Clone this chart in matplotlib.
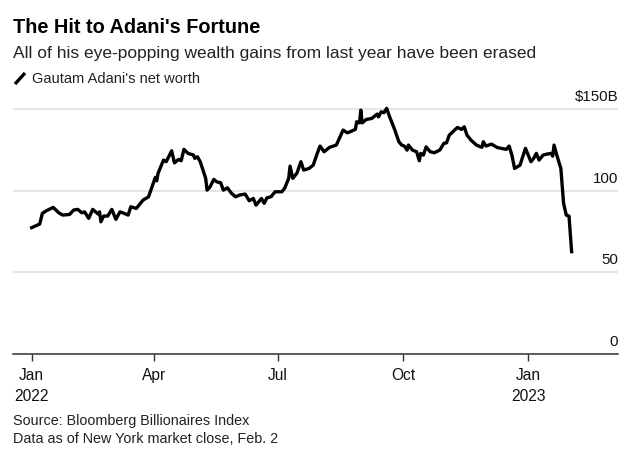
import matplotlib
matplotlib.use("Agg")
import matplotlib.pyplot as plt
import matplotlib.dates as mdates
from matplotlib.lines import Line2D
from matplotlib.transforms import ScaledTranslation
import pandas as pd

# Gautam Adani's net worth, $B
dates = [
    "2021-12-31", "2022-01-07", "2022-01-09", "2022-01-12", "2022-01-17", "2022-01-21", "2022-01-24", "2022-01-29",
    "2022-02-01", "2022-02-04", "2022-02-07", "2022-02-09", "2022-02-12", "2022-02-15", "2022-02-19", "2022-02-20",
    "2022-02-21", "2022-02-23", "2022-02-26",
    "2022-03-01", "2022-03-04", "2022-03-07", "2022-03-10", "2022-03-13", "2022-03-15", "2022-03-19", "2022-03-24",
    "2022-03-28", "2022-03-31",
    "2022-04-02", "2022-04-03", "2022-04-04", "2022-04-08", "2022-04-10", "2022-04-14", "2022-04-16", "2022-04-19",
    "2022-04-21", "2022-04-23", "2022-04-26", "2022-04-30",
    "2022-05-01", "2022-05-03", "2022-05-05", "2022-05-07", "2022-05-09", "2022-05-10", "2022-05-12", "2022-05-15",
    "2022-05-17", "2022-05-20", "2022-05-22", "2022-05-25", "2022-05-28", "2022-05-31",
    "2022-06-03", "2022-06-07", "2022-06-10", "2022-06-13", "2022-06-15", "2022-06-19", "2022-06-21", "2022-06-23",
    "2022-06-26", "2022-06-29",
    "2022-07-04", "2022-07-06", "2022-07-09", "2022-07-10", "2022-07-12", "2022-07-15", "2022-07-18", "2022-07-20",
    "2022-07-24", "2022-07-27", "2022-07-30",
    "2022-08-01", "2022-08-04", "2022-08-08", "2022-08-13", "2022-08-18", "2022-08-21", "2022-08-23", "2022-08-27",
    "2022-08-28", "2022-08-30", "2022-08-31",
    "2022-09-01", "2022-09-04", "2022-09-08", "2022-09-12", "2022-09-13", "2022-09-15", "2022-09-17", "2022-09-19",
    "2022-09-21", "2022-09-25", "2022-09-28", "2022-09-30",
    "2022-10-02", "2022-10-04", "2022-10-05", "2022-10-08", "2022-10-11", "2022-10-13", "2022-10-14", "2022-10-16",
    "2022-10-18", "2022-10-21", "2022-10-24", "2022-10-28", "2022-10-31",
    "2022-11-02", "2022-11-04", "2022-11-08", "2022-11-10", "2022-11-13", "2022-11-15", "2022-11-17", "2022-11-20",
    "2022-11-24", "2022-11-28", "2022-11-29",
    "2022-12-01", "2022-12-05", "2022-12-09", "2022-12-12", "2022-12-16", "2022-12-18", "2022-12-20", "2022-12-22",
    "2022-12-26", "2022-12-30",
    "2023-01-01", "2023-01-03", "2023-01-05", "2023-01-07", "2023-01-09", "2023-01-12", "2023-01-15", "2023-01-18",
    "2023-01-19", "2023-01-20", "2023-01-22", "2023-01-25", "2023-01-27", "2023-01-29", "2023-01-31", "2023-02-02",
]
net_worth = [
    77.0, 79.6, 86.2, 87.8, 89.8, 86.5, 85.1, 85.5,
    88.2, 88.6, 86.5, 87.1, 83.1, 88.6, 85.7, 87.1, 81.0, 84.5, 84.5,
    88.6, 82.5, 87.1, 86.2, 85.1, 90.2, 89.2, 94.3, 96.3, 103.5,
    108.2, 106.1, 110.7, 118.8, 117.8, 124.5, 117.1, 119.2, 118.4, 125.4, 122.9, 121.9,
    119.9, 120.8, 117.8, 112.7, 107.6, 100.4, 102.1, 107.0, 105.5, 104.9, 100.4, 101.8, 98.4, 96.3,
    97.4, 98.0, 93.9, 95.3, 91.2, 95.3, 92.3, 95.7, 96.3, 99.4,
    99.4, 101.5, 107.6, 115.1, 107.6, 110.7, 117.8, 112.7, 113.7, 115.7, 122.9,
    127.4, 123.9, 126.6, 128.0, 137.2, 135.5, 136.1, 137.6, 142.3, 141.6, 149.4,
    141.6, 143.7, 144.3, 147.0, 145.3, 148.4, 147.8, 150.5, 145.7, 137.2, 130.0, 128.0,
    127.4, 124.9, 128.0, 124.9, 123.9, 118.4, 122.9, 121.9, 126.9, 123.9, 123.3, 124.9, 129.0,
    129.4, 134.1, 137.2, 138.8, 137.6, 139.2, 134.1, 131.0, 128.0, 126.6, 130.0,
    127.4, 128.6, 126.6, 126.0, 125.4, 127.4, 121.9, 113.7, 115.7, 126.0,
    121.9, 117.8, 119.8, 122.9, 118.8, 121.9, 122.5, 122.9, 121.2, 128.0, 121.9, 113.7, 92.3, 85.1, 84.5, 61.7,
]

y_ticks = [0, 50, 100, 150]
y_tick_labels = ["0", "50", "100", "$150B"]
x_ticks = ["2022-01-01", "2022-04-01", "2022-07-01", "2022-10-01", "2023-01-01"]
x_tick_labels = ["Jan\n2022", "Apr", "Jul", "Oct", "Jan\n2023"]

plt.rcParams["font.family"] = ["Liberation Sans", "DejaVu Sans"]

W, H = 643, 454
fig = plt.figure(figsize=(W / 100, H / 100), dpi=100)
fig.patch.set_facecolor("white")

# axes box in pixels: left 13, right 618, bottom 354, top at y=155 -> 101
ax = fig.add_axes([13 / W, 1 - 354 / H, (618 - 13) / W, (354 - 101) / H])
x = pd.to_datetime(dates)
ax.plot(x, net_worth, color="black", lw=2.4, solid_joinstyle="round", solid_capstyle="butt", zorder=3)

ax.set_ylim(0, 155)
start = mdates.date2num(pd.Timestamp("2022-01-01"))
ax.set_xlim(start - 13.6, start + 431)

for s in ["top", "right", "left"]:
    ax.spines[s].set_visible(False)
ax.spines["bottom"].set_color("#333333")
ax.spines["bottom"].set_linewidth(1.1)

ax.set_yticks(y_ticks)
ax.set_yticklabels(y_tick_labels)
ax.yaxis.tick_right()
ax.tick_params(axis="y", length=0, pad=0, labelsize=10.8, labelcolor="#111111")
for lab in ax.get_yticklabels():
    lab.set_horizontalalignment("right")
    lab.set_verticalalignment("bottom")
    lab.set_transform(lab.get_transform() + ScaledTranslation(0, 5 / 100, fig.dpi_scale_trans))
ax.grid(axis="y", color="#e3e3e3", lw=1.3, zorder=0)

ax.set_xticks(pd.to_datetime(x_ticks))
ax.set_xticklabels(x_tick_labels, linespacing=1.5)
ax.tick_params(axis="x", length=5, width=1, color="#333333", pad=5, labelsize=11.2, labelcolor="#111111")

# header
fig.text(13 / W, 1 - 33 / H, "The Hit to Adani's Fortune", fontsize=14.3, fontweight="bold", color="black",
         va="baseline")
fig.text(13 / W, 1 - 58 / H, "All of his eye-popping wealth gains from last year have been erased",
         fontsize=12.5, color="#222222", va="baseline")
fig.add_artist(Line2D([15 / W, 25 / W], [1 - 84 / H, 1 - 73 / H], color="black", lw=2.4,
                      solid_capstyle="butt", transform=fig.transFigure))
fig.text(32 / W, 1 - 83 / H, "Gautam Adani's net worth", fontsize=10.5, color="#222222", va="baseline")

# footer
fig.text(13 / W, 1 - 425 / H, "Source: Bloomberg Billionaires Index", fontsize=10.4, color="#222222",
         va="baseline")
fig.text(13 / W, 1 - 443 / H, "Data as of New York market close, Feb. 2", fontsize=10.4, color="#222222",
         va="baseline")

fig.savefig("out.png", dpi=100, facecolor="white")
